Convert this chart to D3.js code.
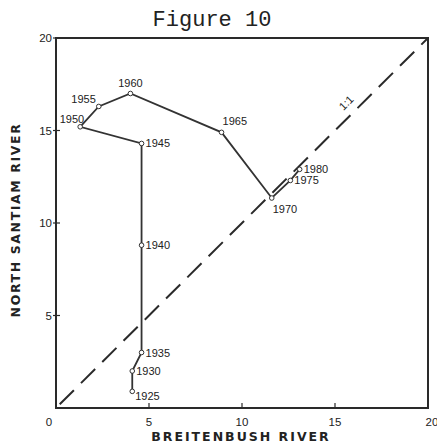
<!DOCTYPE html>
<html><head><meta charset="utf-8">
<script src="https://cdn.jsdelivr.net/npm/d3@7"></script>
<style>body{margin:0;background:#fff}svg{display:block}</style>
</head><body>
<svg id="c" width="437" height="444"></svg>
<script>
const years = [1925,1930,1935,1940,1945,1950,1955,1960,1965,1970,1975,1980];
const breitenbush = [4.1,4.1,4.6,4.6,4.6,1.3,2.3,4.0,8.9,11.6,12.6,13.1];
const northSantiam = [0.9,2.0,3.0,8.8,14.3,15.2,16.3,17.0,14.9,11.35,12.3,12.9];
const xTicks = [0,5,10,15,20];
const yTicks = [5,10,15,20];
const labelPos = ["rb","r","r","r","r","ul","l","u","ur","br","r","r"];

const svg = d3.select("#c");
const x = d3.scaleLinear().domain([0,20]).range([56,428]);
const y = d3.scaleLinear().domain([0,20]).range([408,38]);
const ink = "#2a2a2a";

svg.append("text").attr("x",212).attr("y",26).attr("text-anchor","middle")
  .attr("font-family","Liberation Mono, DejaVu Sans Mono, monospace").attr("font-size",22)
  .attr("fill","#222").text("Figure 10");

// frame
svg.append("rect").attr("x",x(0)).attr("y",y(20)).attr("width",x(20)-x(0)).attr("height",y(0)-y(20))
  .attr("fill","none").attr("stroke",ink).attr("stroke-width",2);

// x ticks
const xa = svg.append("g");
xTicks.forEach(t=>{
  xa.append("line").attr("x1",x(t)).attr("x2",x(t)).attr("y1",y(0)).attr("y2",y(0)-5).attr("stroke",ink).attr("stroke-width",1.2);
  xa.append("text").attr("x",x(t) + (t===0?-7:(t===20?4:0))).attr("y",y(0)+18).attr("text-anchor","middle")
    .attr("font-family","Liberation Sans, Arial, sans-serif").attr("font-size",11.5).attr("fill","#222").text(t);
});
const ya = svg.append("g");
yTicks.forEach(t=>{
  ya.append("line").attr("x1",x(0)-3).attr("x2",x(0)+4).attr("y1",y(t)).attr("y2",y(t)).attr("stroke",ink).attr("stroke-width",1.2);
  ya.append("text").attr("x",x(0)-4).attr("y",y(t)+4).attr("text-anchor","end")
    .attr("font-family","Liberation Sans, Arial, sans-serif").attr("font-size",11.5).attr("fill","#222").text(t);
});

// axis titles
svg.append("text").attr("x",241).attr("y",441).attr("text-anchor","middle")
  .attr("font-family","DejaVu Sans, sans-serif").attr("font-weight","bold").attr("font-size",12.5)
  .attr("letter-spacing",2).attr("fill","#222").text("BREITENBUSH RIVER");
svg.append("text").attr("transform","translate(20,220) rotate(-90)").attr("text-anchor","middle")
  .attr("font-family","DejaVu Sans, sans-serif").attr("font-weight","bold").attr("font-size",12.5)
  .attr("letter-spacing",1.6).attr("fill","#222").text("NORTH SANTIAM RIVER");

// 1:1 line
svg.append("line").attr("x1",x(0.2)).attr("y1",y(0.2)).attr("x2",x(20)).attr("y2",y(20))
  .attr("stroke",ink).attr("stroke-width",2).attr("stroke-dasharray","20,10");
const lx = x(15.75), ly = y(16.35);
svg.append("text").attr("transform",`translate(${lx},${ly}) rotate(-45)`).attr("text-anchor","middle")
  .attr("font-family","Liberation Sans, Arial, sans-serif").attr("font-size",11).attr("fill","#222").text("1:1");

// trajectory
const pts = years.map((yr,i)=>({yr, bx:breitenbush[i], ns:northSantiam[i], pos:labelPos[i]}));
svg.append("path").datum(pts)
  .attr("d", d3.line().x(d=>x(d.bx)).y(d=>y(d.ns)))
  .attr("fill","none").attr("stroke","#333").attr("stroke-width",1.8);
svg.selectAll("circle.p").data(pts).enter().append("circle")
  .attr("cx",d=>x(d.bx)).attr("cy",d=>y(d.ns)).attr("r",2.3)
  .attr("fill","#fff").attr("stroke","#333").attr("stroke-width",1);
const off = {r:[4,4,"start"], rb:[3,9,"start"], ul:[4,-4,"end"], l:[-3,-3,"end"], u:[0,-7,"middle"], ur:[1,-7,"start"], br:[1,15,"start"]};
svg.selectAll("text.yr").data(pts).enter().append("text")
  .attr("x",d=>x(d.bx)+off[d.pos][0]).attr("y",d=>y(d.ns)+off[d.pos][1])
  .attr("text-anchor",d=>off[d.pos][2])
  .attr("font-family","Liberation Sans, Arial, sans-serif").attr("font-size",11).attr("fill","#222")
  .text(d=>d.yr);
</script>
</body></html>
